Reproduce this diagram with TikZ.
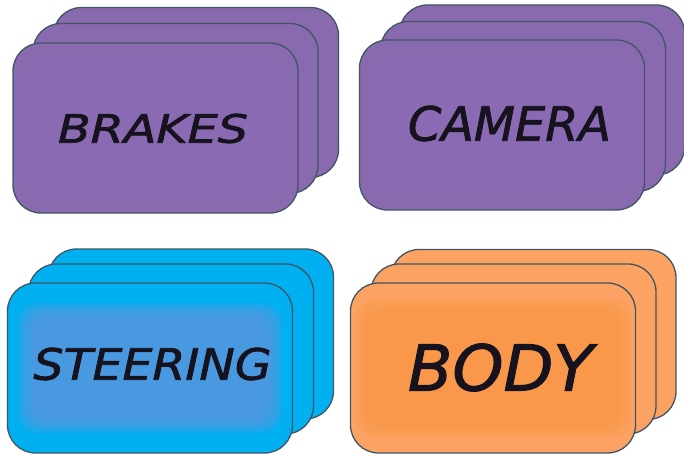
\documentclass[tikz,border=0pt]{standalone}
\usepackage{fontspec}
\setmainfont{DejaVu Sans}
\newfontfamily\lblfont{DejaVu Sans}[ItalicFeatures={FakeBold=1.6}]
\usepackage{graphicx}
\definecolor{purp}{RGB}{138,106,174}
\definecolor{purpin}{RGB}{143,108,184}
\definecolor{cyanc}{RGB}{0,176,240}
\definecolor{cyanin}{RGB}{95,150,222}
\definecolor{orng}{RGB}{252,162,98}
\definecolor{orngin}{RGB}{249,152,70}
\definecolor{edgec}{RGB}{64,86,102}
\definecolor{txt}{RGB}{22,18,30}
\tikzset{
  card/.style={draw=edgec, line width=1.3pt, rounded corners=28pt,
    minimum width=285pt, minimum height=170pt, inner sep=0pt},
  lbl/.style={inner sep=0pt, text=txt, font=\lblfont\itshape}
}
\newcommand\glowbox[5]{%
  \foreach \i in {0,...,7}{
    \fill[#3, opacity=0.18, rounded corners=20pt]
      ({#1-142.5+#4-8+2*\i},{#2-85+#5-8+2*\i}) rectangle
      ({#1+142.5-#4+8-2*\i},{#2+85-#5+8-2*\i});
  }}
\begin{document}
\begin{tikzpicture}[x=1pt,y=-1pt]
\useasboundingbox (0,0) rectangle (684,454);
% BRAKES
\node[card, fill=purp] (brakes3) at (196,92.5) {};
\node[card, fill=purp] (brakes2) at (175.5,108.5) {};
\node[card, fill=purp] (brakes1) at (155.5,128) {};
\glowbox{155.5}{128}{purpin}{14}{22}
\node[lbl] (brakesT) at (153,128.5) {\resizebox{190pt}{29pt}{BRAKES}};
% CAMERA
\node[card, fill=purp] (camera3) at (542,90) {};
\node[card, fill=purp] (camera2) at (523,106.5) {};
\node[card, fill=purp] (camera1) at (502,125) {};
\glowbox{502}{125}{purpin}{14}{22}
\node[lbl] (cameraT) at (509.5,123.5) {\resizebox{203pt}{35pt}{CAMERA}};
% STEERING
\node[card, fill=cyanc] (steer3) at (191,334) {};
\node[card, fill=cyanc] (steer2) at (171,349) {};
\node[card, fill=cyanc] (steer1) at (150,368) {};
\glowbox{150}{368}{cyanin}{18}{28}
\node[lbl] (steerT) at (152.5,364) {\resizebox{238pt}{32pt}{STEERING}};
% BODY
\node[card, fill=orng] (body3) at (533.5,334.5) {};
\node[card, fill=orng] (body2) at (513.5,349) {};
\node[card, fill=orng] (body1) at (493,368) {};
\glowbox{493}{368}{orngin}{12}{24}
\node[lbl] (bodyT) at (500.5,367.5) {\resizebox{185pt}{47pt}{BODY}};
\end{tikzpicture}
\end{document}
